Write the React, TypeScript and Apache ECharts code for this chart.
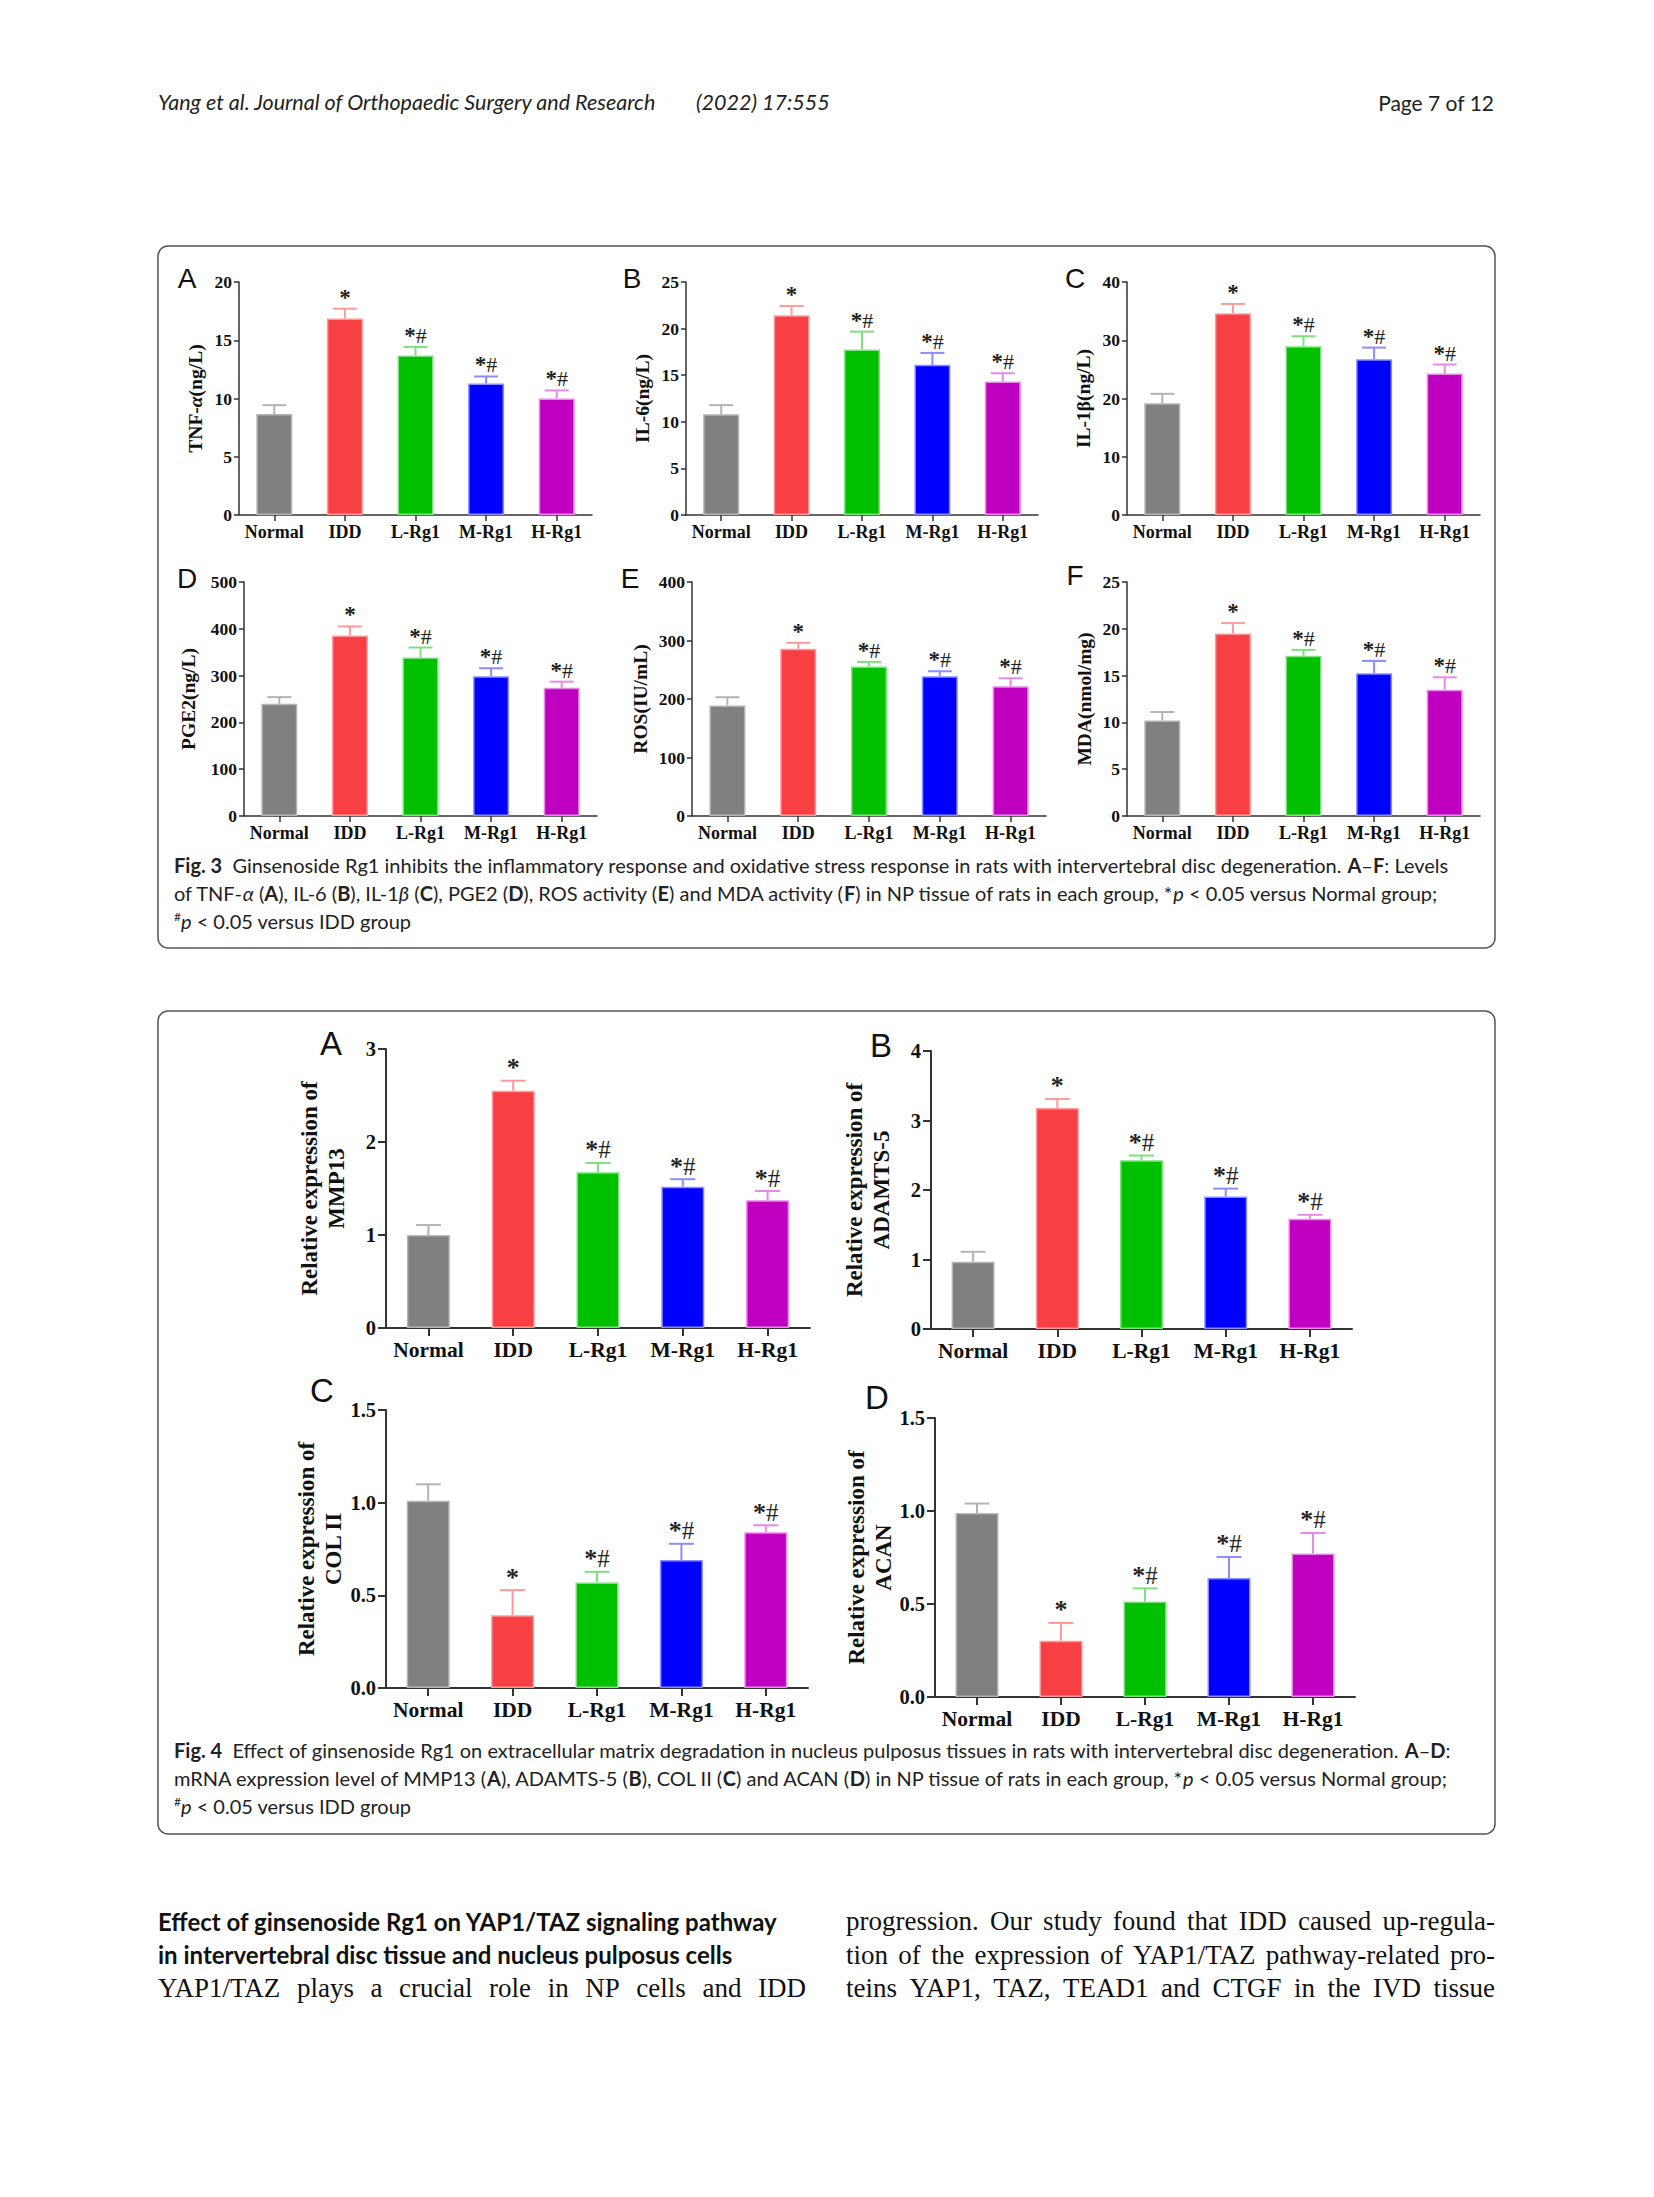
import React, { useEffect, useRef } from "react";
import * as echarts from "echarts";

// ---------------- data ----------------
const categories = ["Normal", "IDD", "L-Rg1", "M-Rg1", "H-Rg1"];
const sigMarks = ["", "*", "*#", "*#", "*#"];

// Fig. 3
const tnfMean = [8.66, 16.86, 13.69, 11.29, 10.0];
const tnfSd = [0.77, 0.85, 0.74, 0.6, 0.69];
const il6Mean = [10.82, 21.43, 17.75, 16.11, 14.32];
const il6Sd = [0.97, 1.0, 1.93, 1.28, 0.89];
const il1bMean = [19.2, 34.63, 28.97, 26.74, 24.29];
const il1bSd = [1.6, 1.6, 1.72, 2.0, 1.54];
const pge2Mean = [240, 385.7, 338.6, 298.6, 274.3];
const pge2Sd = [14, 19.3, 21.4, 17.1, 12.7];
const rosMean = [189, 285.7, 255.4, 238.9, 221.7];
const rosSd = [14, 10.3, 8, 8.5, 13.7];
const mdaMean = [10.21, 19.5, 17.11, 15.25, 13.5];
const mdaSd = [0.9, 1.11, 0.64, 1.32, 1.32];

// Fig. 4
const mmp13Mean = [1.0, 2.551, 1.674, 1.52, 1.373];
const mmp13Sd = [0.107, 0.108, 0.101, 0.08, 0.1];
const adamtsMean = [0.968, 3.18, 2.429, 1.907, 1.586];
const adamtsSd = [0.143, 0.13, 0.067, 0.113, 0.057];
const col2Mean = [1.01, 0.392, 0.569, 0.69, 0.841];
const col2Sd = [0.089, 0.136, 0.058, 0.088, 0.037];
const acanMean = [0.989, 0.303, 0.514, 0.64, 0.771];
const acanSd = [0.051, 0.095, 0.07, 0.113, 0.111];

// axis scales
const fig3Max = [20, 25, 40, 500, 400, 25];
const fig3Interval = [5, 5, 10, 100, 100, 5];
const fig4Max = [3, 4, 1.5, 1.5];
const fig4Interval = [1, 1, 0.5, 0.5];

// body text lines
const bodyLeft = ["YAP1/TAZ plays a crucial role in NP cells and IDD"];
const bodyRight = [
  "progression. Our study found that IDD caused up-regula-",
  "tion of the expression of YAP1/TAZ pathway-related pro-",
  "teins YAP1, TAZ, TEAD1 and CTGF in the IVD tissue",
];

// ---------------- style ----------------
const barColors = ["#808080", "#F84044", "#00C000", "#0000FF", "#C000C0"];
const errColors = ["#B4B4B4", "#FF9A9C", "#7FE07F", "#8C8CFF", "#E68CE6"];
const SERIF = "'Liberation Serif', 'Times New Roman', serif";
const SANS = "'Liberation Sans', Arial, sans-serif";
const CAP = "Lato, 'Open Sans', sans-serif";
const INK = "#111";

type Panel = {
  mean: number[];
  sd: number[];
  max: number;
  interval: number;
  name: string;
  l: number;
  t: number;
  w: number;
  h: number;
  gap: number;
  letter: string;
  lx: number;
  ly: number;
  big: boolean;
  dec: boolean;
};

const panels: Panel[] = [
  { mean: tnfMean, sd: tnfSd, max: fig3Max[0], interval: fig3Interval[0], name: "{a|TNF-}{i|α}{a|(ng/L)}", l: 239, t: 282, w: 353, h: 233, gap: 33.5, letter: "A", lx: 187, ly: 278, big: false, dec: false },
  { mean: il6Mean, sd: il6Sd, max: fig3Max[1], interval: fig3Interval[1], name: "{a|IL-6(ng/L)}", l: 686, t: 282, w: 352, h: 233, gap: 33.5, letter: "B", lx: 632, ly: 278, big: false, dec: false },
  { mean: il1bMean, sd: il1bSd, max: fig3Max[2], interval: fig3Interval[2], name: "{a|IL-1β(ng/L)}", l: 1127, t: 282, w: 353, h: 233, gap: 33.5, letter: "C", lx: 1075, ly: 278, big: false, dec: false },
  { mean: pge2Mean, sd: pge2Sd, max: fig3Max[3], interval: fig3Interval[3], name: "{a|PGE2(ng/L)}", l: 244, t: 582, w: 353, h: 234, gap: 45.5, letter: "D", lx: 187, ly: 578, big: false, dec: false },
  { mean: rosMean, sd: rosSd, max: fig3Max[4], interval: fig3Interval[4], name: "{a|ROS(IU/mL)}", l: 692, t: 582, w: 354, h: 234, gap: 41.5, letter: "E", lx: 630, ly: 578, big: false, dec: false },
  { mean: mdaMean, sd: mdaSd, max: fig3Max[5], interval: fig3Interval[5], name: "{a|MDA(nmol/mg)}", l: 1127, t: 582, w: 353, h: 234, gap: 32.5, letter: "F", lx: 1075, ly: 575, big: false, dec: false },
  { mean: mmp13Mean, sd: mmp13Sd, max: fig4Max[0], interval: fig4Interval[0], name: "{a|Relative expression of}\n{a|MMP13}", l: 386, t: 1049, w: 424, h: 279, gap: 36.5, letter: "A", lx: 331, ly: 1043, big: true, dec: false },
  { mean: adamtsMean, sd: adamtsSd, max: fig4Max[1], interval: fig4Interval[1], name: "{a|Relative expression of}\n{a|ADAMTS-5}", l: 931, t: 1051, w: 421, h: 278, gap: 36.5, letter: "B", lx: 881, ly: 1045, big: true, dec: false },
  { mean: col2Mean, sd: col2Sd, max: fig4Max[2], interval: fig4Interval[2], name: "{a|Relative expression of}\n{a|COL II}", l: 386, t: 1410, w: 422, h: 278, gap: 39.5, letter: "C", lx: 322, ly: 1390, big: true, dec: true },
  { mean: acanMean, sd: acanSd, max: fig4Max[3], interval: fig4Interval[3], name: "{a|Relative expression of}\n{a|ACAN}", l: 935, t: 1418, w: 420, h: 279, gap: 38.5, letter: "D", lx: 877, ly: 1397, big: true, dec: true },
];

let measureCtx: CanvasRenderingContext2D | null = null;
function measure(text: string, font: string): number {
  if (!measureCtx) measureCtx = document.createElement("canvas").getContext("2d");
  if (!measureCtx) return text.length * 10;
  measureCtx.font = font;
  return measureCtx.measureText(text).width;
}

// justified line: one text element per word, spread between x0 and x1
function justified(line: string, x0: number, x1: number, y: number, size: number, family: string) {
  const words = line.split(" ");
  const font = `${size}px ${family}`;
  const widths = words.map((w) => measure(w, font));
  const total = widths.reduce((a, b) => a + b, 0);
  const gap = words.length > 1 ? (x1 - x0 - total) / (words.length - 1) : 0;
  const out: any[] = [];
  let x = x0;
  words.forEach((w, k) => {
    out.push({ type: "text", x, y, style: { text: w, fontFamily: family, fontSize: size, fill: "#111", verticalAlign: "middle" } });
    x += widths[k] + gap;
  });
  return out;
}

function markText(mark: string) {
  if (!mark) return "";
  return mark
    .split("")
    .map((c) => (c === "*" ? "{s|*}" : "{h|#}"))
    .join("");
}

function buildOption() {
  const grid = panels.map((p) => ({ left: p.l, top: p.t, width: p.w, height: p.h, containLabel: false }));
  const xAxis = panels.map((p, i) => ({
    type: "category",
    gridIndex: i,
    data: categories,
    axisLine: { show: true, lineStyle: { color: "#333", width: p.big ? 2 : 1.5 } },
    axisTick: { show: true, alignWithLabel: true, interval: 0, length: p.big ? 8 : 6, lineStyle: { color: "#333", width: p.big ? 2 : 1.5 } },
    axisLabel: { interval: 0, fontFamily: SERIF, fontWeight: "bold", fontSize: p.big ? 21.5 : 18, color: INK, margin: p.big ? 11 : 8 },
    splitLine: { show: false },
  }));
  const yAxis = panels.map((p, i) => ({
    type: "value",
    gridIndex: i,
    min: 0,
    max: p.max,
    interval: p.interval,
    splitLine: { show: false },
    axisLine: { show: true, lineStyle: { color: "#333", width: p.big ? 2 : 1.5 } },
    axisTick: { show: true, length: p.big ? 8 : 5, lineStyle: { color: "#333", width: p.big ? 2 : 1.5 } },
    axisLabel: {
      fontFamily: SERIF,
      fontWeight: "bold",
      fontSize: p.big ? 20.5 : 17.5,
      color: INK,
      margin: p.big ? 10 : 7,
      formatter: (v: number) => (p.dec ? v.toFixed(1) : String(v)),
    },
    name: p.name,
    nameLocation: "middle",
    nameRotate: 90,
    nameGap: p.gap,
    nameTextStyle: {
      rich: {
        a: { fontFamily: SERIF, fontWeight: "bold", fontSize: p.big ? 23 : 19.5, color: INK, lineHeight: p.big ? 27 : 21 },
        i: { fontFamily: SERIF, fontWeight: "bold", fontStyle: "italic", fontSize: p.big ? 23 : 19.5, color: INK, lineHeight: p.big ? 27 : 21 },
      },
    },
  }));

  const series: any[] = [];
  panels.forEach((p, i) => {
    series.push({
      type: "bar",
      xAxisIndex: i,
      yAxisIndex: i,
      barWidth: p.big ? 43 : 36,
      data: p.mean.map((v, j) => ({
        value: v,
        itemStyle: { color: barColors[j], borderColor: errColors[j], borderWidth: 1.5 },
      })),
      z: 2,
    });
    const capW = p.big ? 25 : 24;
    const fs = p.big ? 26 : 23;
    series.push({
      type: "custom",
      xAxisIndex: i,
      yAxisIndex: i,
      z: 3,
      data: p.mean.map((v, j) => [j, v, p.sd[j]]),
      renderItem: (params: any, api: any) => {
        const j = params.dataIndex;
        const m = api.value(1);
        const s = api.value(2);
        const base = api.coord([j, m]);
        const top = api.coord([j, m + s]);
        const x = base[0];
        return {
          type: "group",
          children: [
            { type: "line", shape: { x1: x, y1: base[1], x2: x, y2: top[1] }, style: { stroke: errColors[j], lineWidth: 2 } },
            { type: "line", shape: { x1: x - capW / 2, y1: top[1], x2: x + capW / 2, y2: top[1] }, style: { stroke: errColors[j], lineWidth: 2 } },
            {
              type: "text",
              x: x,
              y: top[1],
              style: {
                text: markText(sigMarks[j]),
                fill: "#222",
                fontFamily: SERIF,
                fontSize: fs,
                align: "center",
                verticalAlign: "bottom",
                rich: {
                  s: { fontFamily: SERIF, fontWeight: "bold", fontSize: fs, fill: "#222" },
                  h: { fontFamily: SERIF, fontSize: fs - 1, fill: "#222" },
                },
              },
            },
          ],
        };
      },
    });
  });

  const CS = 20;
  const capRich = {
    b: { fontFamily: CAP, fontWeight: "bold", fontSize: CS, fill: "#222" },
    i: { fontFamily: CAP, fontStyle: "italic", fontSize: CS, fill: "#222" },
    s: { fontFamily: CAP, fontSize: 12, fill: "#222", verticalAlign: "top", padding: [0, 0, 9, 0] },
  };
  const capText = (x: number, y: number, text: string) => ({
    type: "text",
    x,
    y,
    style: { text, fontFamily: CAP, fontSize: CS, fill: "#222", verticalAlign: "middle", rich: capRich },
  });

  const graphic: any[] = [
    // page header
    { type: "text", x: 158, y: 102, style: { text: "Yang et al. Journal of Orthopaedic Surgery and Research", fontFamily: CAP, fontStyle: "italic", fontSize: 21.5, fill: "#222", verticalAlign: "middle" } },
    { type: "text", x: 696, y: 102, style: { text: "(2022) 17:555", fontFamily: CAP, fontStyle: "italic", fontSize: 21.5, fill: "#222", verticalAlign: "middle" } },
    { type: "text", x: 1494, y: 102, style: { text: "Page 7 of 12", fontFamily: CAP, fontSize: 21, fill: "#222", align: "right", verticalAlign: "middle" } },
    // figure boxes
    { type: "rect", shape: { x: 158, y: 246, width: 1337, height: 702, r: 10 }, style: { fill: "none", stroke: "#555", lineWidth: 1.5 } },
    { type: "rect", shape: { x: 158, y: 1011, width: 1337, height: 823, r: 10 }, style: { fill: "none", stroke: "#555", lineWidth: 1.5 } },
    // captions
    capText(174, 865, "{b|Fig. 3}  Ginsenoside Rg1 inhibits the inflammatory response and oxidative stress response in rats with intervertebral disc degeneration. {b|A}–{b|F}: Levels"),
    capText(174, 893, "of TNF-{i|α} ({b|A}), IL-6 ({b|B}), IL-1{i|β} ({b|C}), PGE2 ({b|D}), ROS activity ({b|E}) and MDA activity ({b|F}) in NP tissue of rats in each group, *{i|p} < 0.05 versus Normal group;"),
    capText(174, 921, "{s|#}{i|p} < 0.05 versus IDD group"),
    capText(174, 1750, "{b|Fig. 4}  Effect of ginsenoside Rg1 on extracellular matrix degradation in nucleus pulposus tissues in rats with intervertebral disc degeneration. {b|A}–{b|D}:"),
    capText(174, 1778, "mRNA expression level of MMP13 ({b|A}), ADAMTS-5 ({b|B}), COL II ({b|C}) and ACAN ({b|D}) in NP tissue of rats in each group, *{i|p} < 0.05 versus Normal group;"),
    capText(174, 1806, "{s|#}{i|p} < 0.05 versus IDD group"),
    // section heading
    { type: "text", x: 158, y: 1921, style: { text: "Effect of ginsenoside Rg1 on YAP1/TAZ signaling pathway", fontFamily: CAP, fontWeight: "bold", fontSize: 24, fill: "#111", verticalAlign: "middle" } },
    { type: "text", x: 158, y: 1954, style: { text: "in intervertebral disc tissue and nucleus pulposus cells", fontFamily: CAP, fontWeight: "bold", fontSize: 24, fill: "#111", verticalAlign: "middle" } },
  ];
  bodyLeft.forEach((line, k) => graphic.push(...justified(line, 158, 806, 1988 + k * 33.5, 27, SERIF)));
  bodyRight.forEach((line, k) => graphic.push(...justified(line, 846, 1495, 1921 + k * 33.5, 27, SERIF)));
  panels.forEach((p) => {
    graphic.push({
      type: "text",
      x: p.lx,
      y: p.ly,
      style: { text: p.letter, fontFamily: SANS, fontSize: p.big ? 33 : 28, fill: INK, align: "center", verticalAlign: "middle" },
    });
  });

  return {
    animation: false,
    backgroundColor: "#ffffff",
    grid,
    xAxis,
    yAxis,
    series,
    graphic,
  };
}

export default function App() {
  const ref = useRef<HTMLDivElement>(null);
  useEffect(() => {
    if (!ref.current) return;
    const chart = echarts.init(ref.current, undefined, { renderer: "svg" });
    chart.setOption(buildOption() as any);
    return () => chart.dispose();
  }, []);
  return (
    <div
      ref={ref}
      style={{ position: "absolute", left: 0, top: 0, width: 1654, height: 2197, background: "#fff" }}
    />
  );
}
